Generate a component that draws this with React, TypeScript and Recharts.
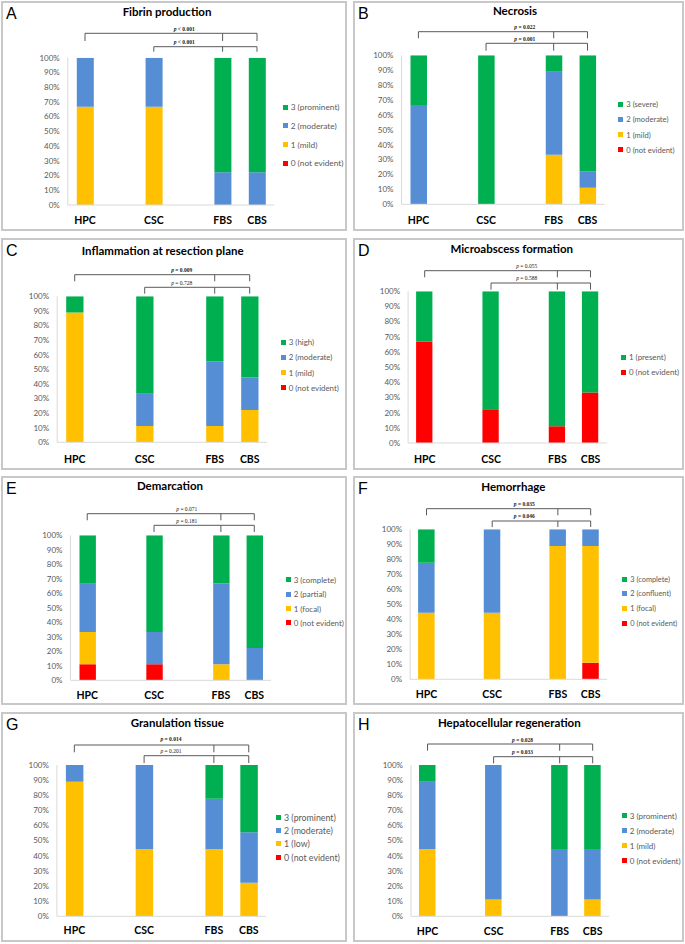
import React from "react";
import { BarChart, Bar, XAxis, YAxis, ReferenceLine, ReferenceDot, Legend } from "recharts";

const FONT = "Lato, 'Noto Sans', sans-serif";
const SERIF = "'Liberation Serif', 'DejaVu Serif', serif";

// ---------- shared categories ----------
const groups = ["HPC", "CSC", "FBS", "CBS"];
const slots = ["HPC", "gap1", "CSC", "gap2", "FBS", "CBS"];
const percentTicks = [0, 10, 20, 30, 40, 50, 60, 70, 80, 90, 100];
const gradeColors4 = ["#FF0000", "#FFC000", "#558ED5", "#00B050"];
const gradeColors2 = ["#FF0000", "#00B050"];

// ---------- A: Fibrin production (rows: HPC, CSC, FBS, CBS; cols: grade 0..3) ----------
const fibrinGrades = ["0 (not evident)", "1 (mild)", "2 (moderate)", "3 (prominent)"];
const fibrinPct = [
  [0, 66.7, 33.3, 0],
  [0, 66.7, 33.3, 0],
  [0, 0, 22.2, 77.8],
  [0, 0, 22.2, 77.8],
];
const fibrinP = ["p < 0.001", "p < 0.001"];

// ---------- B: Necrosis ----------
const necrosisGrades = ["0 (not evident)", "1 (mild)", "2 (moderate)", "3 (severe)"];
const necrosisPct = [
  [0, 0, 66.7, 33.3],
  [0, 0, 0, 100],
  [0, 33.3, 55.6, 11.1],
  [0, 11.1, 11.1, 77.8],
];
const necrosisP = ["p = 0.022", "p = 0.001"];

// ---------- C: Inflammation at resection plane ----------
const inflammationGrades = ["0 (not evident)", "1 (mild)", "2 (moderate)", "3 (high)"];
const inflammationPct = [
  [0, 88.9, 0, 11.1],
  [0, 11.1, 22.2, 66.7],
  [0, 11.1, 44.4, 44.5],
  [0, 22.2, 22.2, 55.6],
];
const inflammationP = ["p = 0.009", "p = 0.728"];

// ---------- D: Microabscess formation ----------
const microabscessGrades = ["0 (not evident)", "1 (present)"];
const microabscessPct = [
  [66.7, 33.3],
  [22.2, 77.8],
  [11.1, 88.9],
  [33.3, 66.7],
];
const microabscessP = ["p = 0.055", "p = 0.588"];

// ---------- E: Demarcation ----------
const demarcationGrades = ["0 (not evident)", "1 (focal)", "2 (partial)", "3 (complete)"];
const demarcationPct = [
  [11.1, 22.2, 33.3, 33.4],
  [11.1, 0, 22.2, 66.7],
  [0, 11.1, 55.6, 33.3],
  [0, 0, 22.2, 77.8],
];
const demarcationP = ["p = 0.071", "p = 0.181"];

// ---------- F: Hemorrhage ----------
const hemorrhageGrades = ["0 (not evident)", "1 (focal)", "2 (confluent)", "3 (complete)"];
const hemorrhagePct = [
  [0, 44.4, 33.3, 22.3],
  [0, 44.4, 55.6, 0],
  [0, 88.9, 11.1, 0],
  [11.1, 77.8, 11.1, 0],
];
const hemorrhageP = ["p = 0.035", "p = 0.046"];

// ---------- G: Granulation tissue ----------
const granulationGrades = ["0 (not evident)", "1 (low)", "2 (moderate)", "3 (prominent)"];
const granulationPct = [
  [0, 88.9, 11.1, 0],
  [0, 44.4, 55.6, 0],
  [0, 44.4, 33.3, 22.3],
  [0, 22.2, 33.3, 44.5],
];
const granulationP = ["p = 0.014", "p = 0.201"];

// ---------- H: Hepatocellular regeneration ----------
const regenerationGrades = ["0 (not evident)", "1 (mild)", "2 (moderate)", "3 (prominent)"];
const regenerationPct = [
  [0, 44.4, 44.5, 11.1],
  [0, 11.1, 88.9, 0],
  [0, 0, 44.4, 55.6],
  [0, 11.1, 33.3, 55.6],
];
const regenerationP = ["p = 0.028", "p = 0.033"];

// ---------- layout (pixels, relative to each panel box) ----------
const panels = [
  {
    letter: "A", title: "Fibrin production", grades: fibrinGrades, pct: fibrinPct, pValues: fibrinP, pBold: [true, true], colors: gradeColors4,
    box: { x: 1, y: 1, w: 346, h: 230 }, plot: { l: 66.8, r: 273.2, t: 56.7, b: 204 }, bar: 17,
    br: { u: 32.3, ut: 40, l: 45.7, lt: 50.7, pu: 28, pl: 41.3, dx: -4 }, xLab: 219.7, titlePos: { x: 166, y: 11 }, legend: { x: 281.7, y: 106.3, s: 18.7, f: 8.3 },
  },
  {
    letter: "B", title: "Necrosis", grades: necrosisGrades, pct: necrosisPct, pValues: necrosisP, pBold: [true, true], colors: gradeColors4,
    box: { x: 353, y: 1, w: 331, h: 230 }, plot: { l: 48.5, r: 251.4, t: 54.3, b: 203.3 }, bar: 16.5,
    br: { u: 30.7, ut: 37.3, l: 42.3, lt: 49.7, pu: 26.3, pl: 38, dx: 5 }, xLab: 219, titlePos: { x: 162, y: 10 }, legend: { x: 265.3, y: 103.3, s: 15.2, f: 7.6 },
  },
  {
    letter: "C", title: "Inflammation at resection plane", grades: inflammationGrades, pct: inflammationPct, pValues: inflammationP, pBold: [true, false], colors: gradeColors4,
    box: { x: 1, y: 238, w: 346, h: 232 }, plot: { l: 56.2, r: 266.2, t: 58.3, b: 204.3 }, bar: 17.3,
    br: { u: 36.7, ut: 43.3, l: 49.3, lt: 55.7, pu: 31.7, pl: 45, dx: 2 }, xLab: 221, titlePos: { x: 161.7, y: 12.7 }, legend: { x: 279.7, y: 104.3, s: 15.2, f: 7.9 },
  },
  {
    letter: "D", title: "Microabscess formation", grades: microabscessGrades, pct: microabscessPct, pValues: microabscessP, pBold: [false, false], colors: gradeColors2,
    box: { x: 353, y: 238, w: 331, h: 232 }, plot: { l: 55.1, r: 254.1, t: 53.3, b: 205 }, bar: 16.3,
    br: { u: 32.7, ut: 39.3, l: 45, lt: 51.7, pu: 27.7, pl: 40, dx: 2.5 }, xLab: 221, titlePos: { x: 158.7, y: 11 }, legend: { x: 268, y: 119.3, s: 15, f: 7.9 },
  },
  {
    letter: "E", title: "Demarcation", grades: demarcationGrades, pct: demarcationPct, pValues: demarcationP, pBold: [false, false], colors: gradeColors4,
    box: { x: 1, y: 476, w: 346, h: 229 }, plot: { l: 69.5, r: 270, t: 59.3, b: 204.3 }, bar: 16.4,
    br: { u: 37.7, ut: 44.3, l: 49.3, lt: 56, pu: 32.7, pl: 45, dx: -0.7 }, xLab: 219, titlePos: { x: 169, y: 10 }, legend: { x: 284.7, y: 104, s: 14.3, f: 7.9 },
  },
  {
    letter: "F", title: "Hemorrhage", grades: hemorrhageGrades, pct: hemorrhagePct, pValues: hemorrhageP, pBold: [true, true], colors: gradeColors4,
    box: { x: 353, y: 476, w: 331, h: 229 }, plot: { l: 57.1, r: 254.1, t: 53.3, b: 203.3 }, bar: 16.5,
    br: { u: 32.7, ut: 39.3, l: 45, lt: 51, pu: 28, pl: 40, dx: -0.7 }, xLab: 218, titlePos: { x: 160.3, y: 10.7 }, legend: { x: 269.3, y: 103.3, s: 14.7, f: 7.4 },
  },
  {
    letter: "G", title: "Granulation tissue", grades: granulationGrades, pct: granulationPct, pValues: granulationP, pBold: [true, false], colors: gradeColors4,
    box: { x: 1, y: 712, w: 346, h: 230 }, plot: { l: 55.9, r: 265.2, t: 53, b: 204.3 }, bar: 17.5,
    br: { u: 33, ut: 40.3, l: 43.7, lt: 51, pu: 27, pl: 38.7, dx: -8 }, xLab: 218, titlePos: { x: 176.3, y: 11 }, legend: { x: 275, y: 105.3, s: 13.3, f: 8.8 },
  },
  {
    letter: "H", title: "Hepatocellular regeneration", grades: regenerationGrades, pct: regenerationPct, pValues: regenerationP, pBold: [true, true], colors: gradeColors4,
    box: { x: 353, y: 712, w: 331, h: 230 }, plot: { l: 58, r: 256.2, t: 53, b: 204.3 }, bar: 16.5,
    br: { u: 32, ut: 38.7, l: 44.7, lt: 51.3, pu: 27.7, pl: 39.7, dx: -4 }, xLab: 219.3, titlePos: { x: 156.3, y: 11.3 }, legend: { x: 268.7, y: 104, s: 14.9, f: 8 },
  },
];

function pLabel(text: string, bold: boolean, dx: number) {
  return (props: any) => {
    const vb = props.viewBox || {};
    const x = (vb.x ?? 0) + (vb.width ?? 0) / 2 + dx;
    const y = (vb.y ?? 0) + (vb.height ?? 0) / 2;
    return (
      <text x={x} y={y} textAnchor="middle" dominantBaseline="central" fontFamily={SERIF} fontSize={5.5}
        fontWeight={bold ? 700 : 400} fill="#222">
        <tspan fontStyle="italic">{text.slice(0, 1)}</tspan>
        <tspan>{text.slice(1)}</tspan>
      </text>
    );
  };
}

function Panel({ cfg }: { cfg: any }) {
  const { letter, title, grades, pct, pValues, pBold, colors, box, plot, bar, br, xLab, titlePos, legend } = cfg;
  const rows = slots.map((slot) => {
    const gi = groups.indexOf(slot);
    const row: any = { slot };
    grades.forEach((_: string, k: number) => {
      row["g" + k] = gi >= 0 ? pct[gi][k] : 0;
    });
    return row;
  });
  const toVal = (py: number) => (100 * (plot.b - py)) / (plot.b - plot.t);
  const yAxisW = 40;
  const xAxisH = 10;
  const margin = { top: plot.t, right: box.w - plot.r, bottom: box.h - plot.b - xAxisH, left: plot.l - yAxisW };
  const lineStyle = { stroke: "#595959", strokeWidth: 1 };
  const [g0, g1, g2, g3] = groups;
  const upperTicks = [g0, g2, g3];
  const lowerTicks = [g1, g2, g3];

  return (
    <div style={{ position: "absolute", left: box.x, top: box.y, width: box.w, height: box.h }}>
      <BarChart width={box.w} height={box.h} data={rows} margin={margin} barCategoryGap={0}>
        <XAxis dataKey="slot" type="category" interval={0} tickLine={false} tickSize={0} tickMargin={xLab - plot.b - 3.7}
          height={xAxisH} axisLine={{ stroke: "#d9d9d9" }}
          tick={{ fontSize: 10.5, fontWeight: 700, fill: "#000", fontFamily: FONT }}
          tickFormatter={(s: string) => (groups.includes(s) ? s : "")} />
        <YAxis type="number" domain={[0, 100]} allowDataOverflow ticks={percentTicks} width={yAxisW} tickLine={false}
          tickSize={0} tickMargin={8} axisLine={{ stroke: "#d9d9d9" }}
          tick={{ fontSize: 8, fill: "#595959", fontFamily: FONT }} tickFormatter={(v: number) => `${v}%`} />
        {grades.map((name: string, k: number) => (
          <Bar key={name} dataKey={"g" + k} name={name} stackId="s" fill={colors[k]} barSize={bar} isAnimationActive={false} />
        ))}
        <ReferenceLine ifOverflow="visible" {...lineStyle}
          segment={[{ x: g0, y: toVal(br.u) }, { x: g3, y: toVal(br.u) }]} />
        {upperTicks.map((g) => (
          <ReferenceLine key={"u" + g} ifOverflow="visible" {...lineStyle}
            segment={[{ x: g, y: toVal(br.u) }, { x: g, y: toVal(br.ut) }]} />
        ))}
        <ReferenceLine ifOverflow="visible" {...lineStyle}
          segment={[{ x: g1, y: toVal(br.l) }, { x: g3, y: toVal(br.l) }]} />
        {lowerTicks.map((g) => (
          <ReferenceLine key={"l" + g} ifOverflow="visible" {...lineStyle}
            segment={[{ x: g, y: toVal(br.l) }, { x: g, y: toVal(br.lt) }]} />
        ))}
        <ReferenceDot x="gap2" y={toVal(br.pu)} r={0} fill="none" stroke="none" ifOverflow="visible"
          label={pLabel(pValues[0], pBold[0], br.dx)} />
        <ReferenceDot x="gap2" y={toVal(br.pl)} r={0} fill="none" stroke="none" ifOverflow="visible"
          label={pLabel(pValues[1], pBold[1], br.dx)} />
        <Legend layout="vertical" align="center" verticalAlign="middle"
          wrapperStyle={{ left: legend.x, top: legend.y - legend.s / 2, width: 80 }}
          content={(props: any) => {
            const items = [...(props.payload || [])].sort((a: any, b: any) => String(b.value).localeCompare(String(a.value)));
            return (
              <div style={{ fontFamily: FONT, fontSize: legend.f, color: "#595959" }}>
                {items.map((it: any) => (
                  <div key={it.value} style={{ height: legend.s, display: "flex", alignItems: "center", whiteSpace: "nowrap" }}>
                    <span style={{ display: "inline-block", width: 5, height: 5, background: it.color, marginRight: 3 }} />
                    <span>{it.value}</span>
                  </div>
                ))}
              </div>
            );
          }} />
      </BarChart>
      <div style={{ position: "absolute", left: 5, top: 4, fontFamily: "'Liberation Sans', Arial, sans-serif", fontSize: 16, lineHeight: "18px", color: "#000" }}>
        {letter}
      </div>
      <div style={{ position: "absolute", left: titlePos.x, top: titlePos.y, transform: "translate(-50%, -50%)", fontFamily: FONT,
        fontSize: 11.5, fontWeight: 700, lineHeight: 1, whiteSpace: "nowrap", color: "#000" }}>
        {title}
      </div>
      <div style={{ position: "absolute", inset: 0, border: "2px solid #c8c8c8", boxSizing: "border-box", pointerEvents: "none" }} />
    </div>
  );
}

export default function App() {
  return (
    <div style={{ position: "absolute", left: 0, top: 0, width: 685, height: 944, background: "#fff" }}>
      {panels.map((p) => (
        <Panel key={p.letter} cfg={p} />
      ))}
    </div>
  );
}
